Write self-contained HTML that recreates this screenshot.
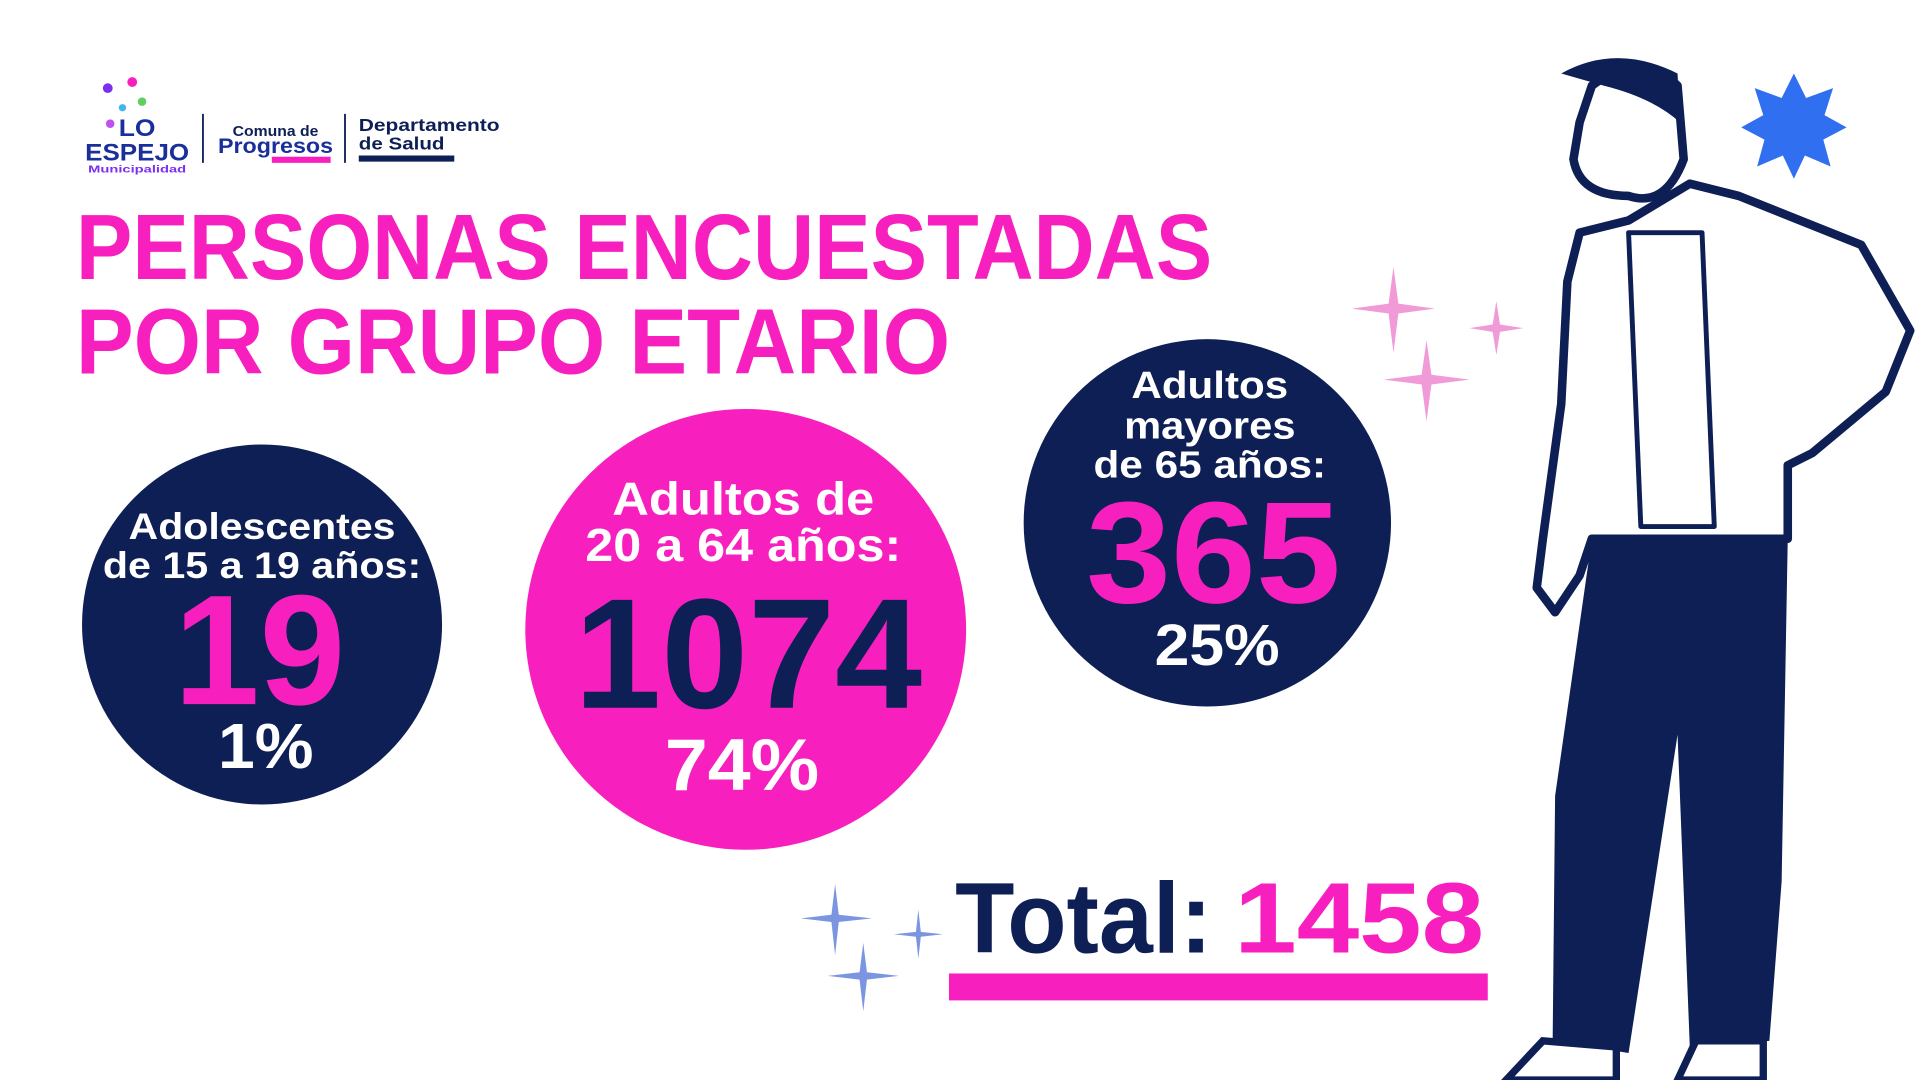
<!DOCTYPE html>
<html><head><meta charset="utf-8"><style>
html,body{margin:0;padding:0;background:#fff;width:1920px;height:1080px;overflow:hidden}
svg{display:block}
text{font-family:"Liberation Sans",sans-serif;font-weight:bold}
</style></head><body>
<svg width="1920" height="1080" viewBox="0 0 1568 882" xmlns="http://www.w3.org/2000/svg">
<rect width="1568" height="882" fill="#fff"/>
<!-- logo -->
<g fill="#7b2ff0"><circle cx="88" cy="72" r="4"/><circle cx="108" cy="67" r="4" fill="#f81fbf"/><circle cx="116" cy="83" r="3.5" fill="#5fd05f"/><circle cx="100" cy="88" r="3" fill="#3fb6f0"/><circle cx="90" cy="101" r="3.5" fill="#c050f0"/></g>
<text x="112" y="111" font-size="20" fill="#1a2f9a" text-anchor="middle" textLength="30" lengthAdjust="spacingAndGlyphs">LO</text>
<text x="112" y="131" font-size="20" fill="#1a2f9a" text-anchor="middle" textLength="85" lengthAdjust="spacingAndGlyphs">ESPEJO</text>
<text x="112" y="141" font-size="8" fill="#7b2ff0" text-anchor="middle" textLength="80" lengthAdjust="spacingAndGlyphs" font-weight="normal">Municipalidad</text>
<rect x="165" y="93" width="1.5" height="40" fill="#0d1f55"/>
<text x="225" y="111" font-size="12" fill="#0d1f55" text-anchor="middle" textLength="70" lengthAdjust="spacingAndGlyphs">Comuna de</text>
<text x="225" y="125" font-size="17" fill="#1a2f9a" text-anchor="middle" textLength="94" lengthAdjust="spacingAndGlyphs">Progresos</text>
<rect x="222" y="128" width="48" height="5" fill="#f81fbf"/>
<rect x="281" y="93" width="1.5" height="40" fill="#0d1f55"/>
<text x="293" y="107" font-size="14" fill="#0d1f55" textLength="115" lengthAdjust="spacingAndGlyphs">Departamento</text>
<text x="293" y="122" font-size="14" fill="#0d1f55" textLength="70" lengthAdjust="spacingAndGlyphs">de Salud</text>
<rect x="293" y="127" width="78" height="5" fill="#0d1f55"/>
<!-- title -->
<text x="62" y="228" font-size="76" fill="#f81fbf" textLength="928" lengthAdjust="spacingAndGlyphs">PERSONAS ENCUESTADAS</text>
<text x="62" y="305" font-size="76" fill="#f81fbf" textLength="714" lengthAdjust="spacingAndGlyphs">POR GRUPO ETARIO</text>
<!-- circle 1 -->
<circle cx="214" cy="510" r="147" fill="#0d1f55"/>
<text x="214" y="440" font-size="30" fill="#fff" text-anchor="middle" textLength="218" lengthAdjust="spacingAndGlyphs">Adolescentes</text>
<text x="214" y="472" font-size="30" fill="#fff" text-anchor="middle" textLength="260" lengthAdjust="spacingAndGlyphs">de 15 a 19 años:</text>
<text x="212" y="575" font-size="128" fill="#f81fbf" text-anchor="middle" textLength="140" lengthAdjust="spacingAndGlyphs">19</text>
<text x="217" y="627" font-size="52" fill="#fff" text-anchor="middle" textLength="78" lengthAdjust="spacingAndGlyphs">1%</text>
<!-- circle 2 -->
<circle cx="609" cy="514" r="180" fill="#f81fbf"/>
<text x="607" y="420" font-size="38" fill="#fff" text-anchor="middle" textLength="214" lengthAdjust="spacingAndGlyphs">Adultos de</text>
<text x="607" y="458" font-size="38" fill="#fff" text-anchor="middle" textLength="258" lengthAdjust="spacingAndGlyphs">20 a 64 años:</text>
<text x="611" y="578" font-size="128" fill="#0d1f55" text-anchor="middle" textLength="284" lengthAdjust="spacingAndGlyphs">1074</text>
<text x="606" y="645" font-size="60" fill="#fff" text-anchor="middle" textLength="126" lengthAdjust="spacingAndGlyphs">74%</text>
<!-- circle 3 -->
<circle cx="986" cy="427" r="150" fill="#0d1f55"/>
<text x="988" y="325" font-size="31" fill="#fff" text-anchor="middle" textLength="128" lengthAdjust="spacingAndGlyphs">Adultos</text>
<text x="988" y="358" font-size="31" fill="#fff" text-anchor="middle" textLength="140" lengthAdjust="spacingAndGlyphs">mayores</text>
<text x="988" y="390" font-size="31" fill="#fff" text-anchor="middle" textLength="190" lengthAdjust="spacingAndGlyphs">de 65 años:</text>
<text x="991" y="492" font-size="118" fill="#f81fbf" text-anchor="middle" textLength="208" lengthAdjust="spacingAndGlyphs">365</text>
<text x="994" y="543" font-size="48" fill="#fff" text-anchor="middle" textLength="102" lengthAdjust="spacingAndGlyphs">25%</text>
<!-- total -->
<text x="780" y="778" font-size="82" fill="#0d1f55" textLength="210" lengthAdjust="spacingAndGlyphs">Total:</text>
<text x="1008" y="778" font-size="82" fill="#f81fbf" textLength="204" lengthAdjust="spacingAndGlyphs">1458</text>
<rect x="775" y="795" width="440" height="22" fill="#f81fbf"/>
<!-- sparkles -->
<g fill="#f19ad8">
<path d="M1138 218 L1142 248 L1172 252 L1142 256 L1138 288 L1134 256 L1104 252 L1134 248Z"/>
<path d="M1222 246 L1225 265 L1244 268 L1225 271 L1222 290 L1219 271 L1200 268 L1219 265Z"/>
<path d="M1165 278 L1169 306 L1200 310 L1169 314 L1165 344 L1161 314 L1130 310 L1161 306Z"/>
</g>
<g fill="#7b95e0">
<path d="M682 722 L685 747 L712 750 L685 753 L682 780 L679 753 L654 750 L679 747Z"/>
<path d="M750 743 L752 761 L770 763 L752 765 L750 783 L748 765 L730 763 L748 761Z"/>
<path d="M705 770 L708 794 L734 797 L708 800 L705 826 L702 800 L676 797 L702 794Z"/>
</g>
<!-- flower -->
<path fill="#2f6ff0" d="M1465 60 L1475 80 L1497 72 L1490 94 L1508 104 L1489 114 L1495 136 L1474 127 L1465 146 L1456 127 L1435 136 L1441 114 L1422 104 L1440 94 L1433 72 L1455 80Z"/>
<!-- man -->
<g stroke="#0d1f55" stroke-width="7" fill="#fff" stroke-linejoin="round">
<path d="M1330 180 L1290 190 L1280 230 L1275 330 L1260 440 L1255 480 L1270 500 L1290 470 L1300 440 L1460 440 L1460 380 L1480 370 L1540 320 L1560 270 L1520 200 L1420 160 L1380 150Z"/>
<path d="M1330 190 L1340 430 L1400 430 L1390 190Z" stroke-width="4"/>
<path d="M1300 70 Q1340 40 1370 70 L1375 130 Q1360 170 1330 160 Q1290 160 1285 130 L1290 100Z"/>
</g>
<path d="M1275 60 Q1320 35 1370 60 L1372 100 Q1350 80 1310 70Z" fill="#0d1f55"/>
<path d="M1300 440 L1460 440 L1455 720 L1445 850 L1380 855 L1370 600 L1330 860 L1268 850 L1270 650 Z" fill="#0d1f55"/>
<path d="M1230 882 L1260 850 L1320 855 L1320 882Z M1370 882 L1385 850 L1440 850 L1440 882Z" fill="#fff" stroke="#0d1f55" stroke-width="6"/>
</svg>
</body></html>
